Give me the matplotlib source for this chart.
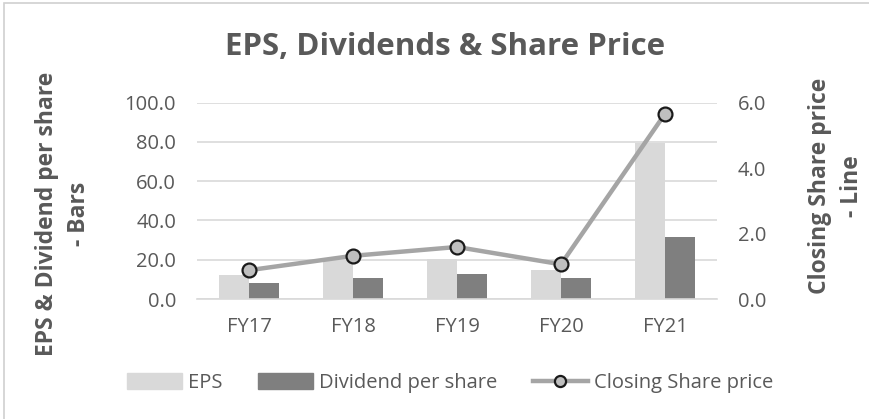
import numpy as np
import matplotlib.pyplot as plt
from matplotlib.patches import Rectangle
from matplotlib.lines import Line2D
from matplotlib.patches import Patch

years = ["FY17", "FY18", "FY19", "FY20", "FY21"]
eps = [12.2, 20.0, 20.2, 14.8, 79.7]
dividend = [8.3, 10.9, 12.9, 10.9, 31.7]
share_price = [0.88, 1.32, 1.59, 1.06, 5.66]

plt.rcParams['font.family'] = ['Open Sans', 'DejaVu Sans']
txt = '#595959'

fig = plt.figure(figsize=(8.69, 4.19), dpi=100)
ax = fig.add_axes([197 / 869, 1 - 299 / 419, 520 / 869, (299 - 102.7) / 419])

x = np.arange(len(years))
w = 0.285
ax.bar(x - w / 2, eps, w, color='#d9d9d9', zorder=2)
ax.bar(x + w / 2, dividend, w, color='#7f7f7f', zorder=2)
ax.set_xlim(-0.5, len(years) - 0.5)
ax.set_ylim(0, 100)
ax.set_yticks(np.arange(0, 101, 20))
ax.set_yticklabels([f"{v:.1f}" for v in np.arange(0, 101, 20)])
ax.set_xticks(x)
ax.set_xticklabels(years)
ax.grid(axis='y', color='#d9d9d9', linewidth=1.2, zorder=0)
ax.set_axisbelow(True)
for s in ['top', 'left', 'right']:
    ax.spines[s].set_visible(False)
ax.spines['bottom'].set_color('#d9d9d9')
ax.spines['bottom'].set_linewidth(1.2)
ax.tick_params(axis='both', length=0, labelsize=14.5, labelcolor=txt)
ax.tick_params(axis='y', pad=15)
ax.tick_params(axis='x', pad=13)

ax2 = ax.twinx()
ax2.plot(x, share_price, color='#a5a5a5', linewidth=3.2, marker='o', markersize=10,
         markerfacecolor='#bfbfbf', markeredgecolor='#1a1a1a', markeredgewidth=1.6, zorder=3)
ax2.set_ylim(0, 6)
ax2.set_yticks([0, 2, 4, 6])
ax2.set_yticklabels([f"{v:.1f}" for v in [0, 2, 4, 6]])
for s in ax2.spines.values():
    s.set_visible(False)
ax2.tick_params(axis='y', length=0, labelsize=14.5, labelcolor=txt, pad=15)

fig.text(445 / 869, 1 - 47 / 419, "EPS, Dividends & Share Price", ha='center', va='center',
         fontsize=22.5, fontweight='bold', color=txt)
fig.text(63 / 869, 1 - 214 / 419, "EPS & Dividend per share\n- Bars", ha='center', va='center',
         rotation=90, fontsize=16.5, fontweight='bold', color=txt, linespacing=1.4)
fig.text(836 / 869, 1 - 186 / 419, "Closing Share price\n- Line", ha='center', va='center',
         rotation=90, fontsize=16.5, fontweight='bold', color=txt, linespacing=1.4)

handles = [Patch(color='#d9d9d9', label='EPS'),
           Patch(color='#7f7f7f', label='Dividend per share'),
           Line2D([], [], color='#a5a5a5', linewidth=3.2, marker='o', markersize=8,
                  markerfacecolor='#bfbfbf', markeredgecolor='#1a1a1a', markeredgewidth=1.6,
                  label='Closing Share price')]
fig.legend(handles=handles, loc='center', bbox_to_anchor=(450 / 869, 1 - 383 / 419), ncol=3,
           frameon=False, fontsize=14.5, labelcolor=txt, handlelength=2.7, handleheight=0.8,
           handletextpad=0.3, columnspacing=1.8)

fig.add_artist(Rectangle((4 / 869, -0.1), 1.2, 1.1 - 3 / 419, transform=fig.transFigure,
                         fill=False, edgecolor='#d0d0d0', linewidth=1.2))

fig.savefig("out.png", dpi=100)
